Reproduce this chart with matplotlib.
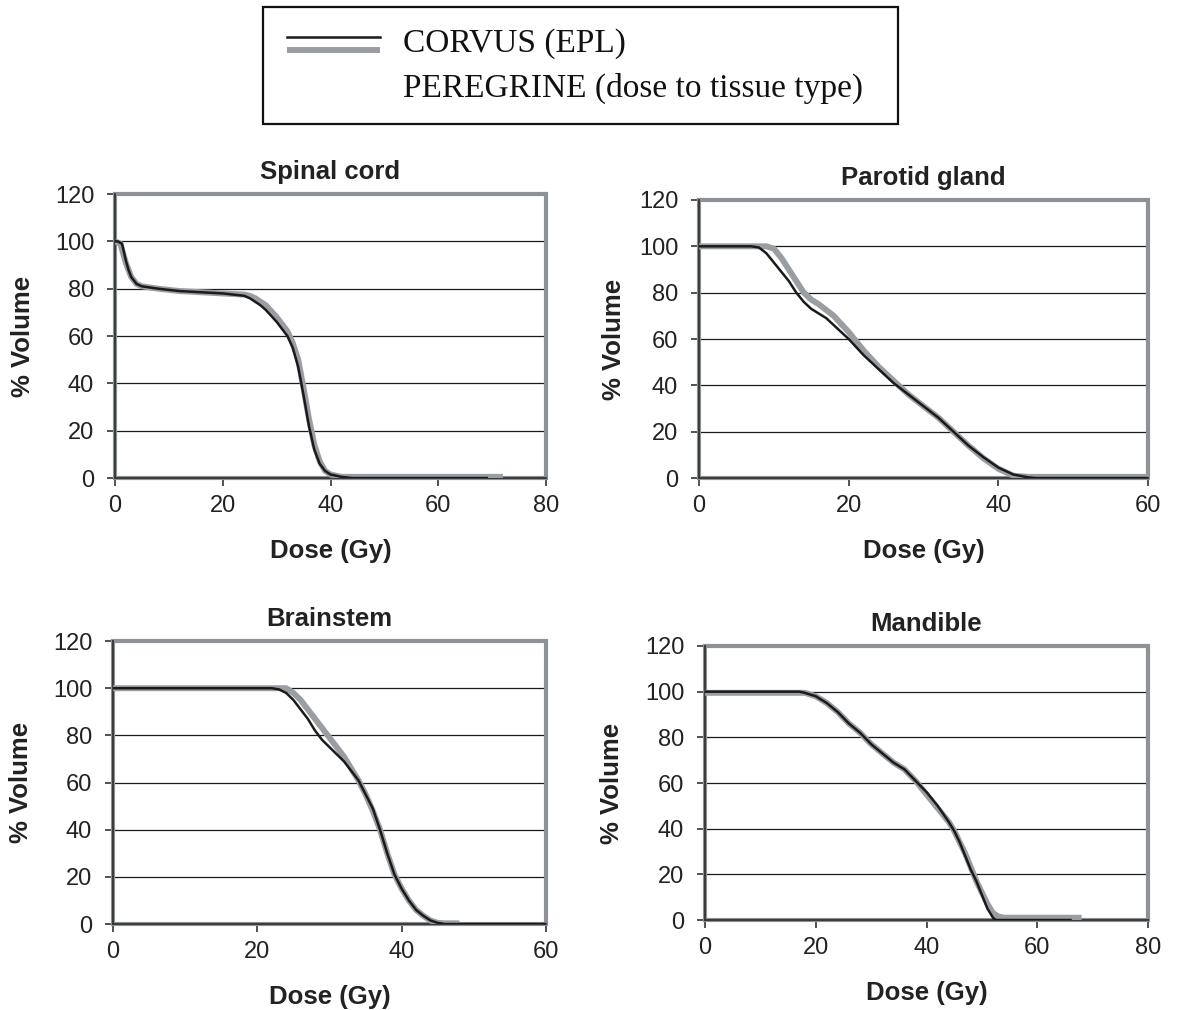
import matplotlib.pyplot as plt
from matplotlib.lines import Line2D
from matplotlib.patches import Rectangle

plt.rcParams['font.family'] = ['Liberation Sans', 'DejaVu Sans']

# dose-volume points (Gy, % volume)
spinal_dose_corvus = [0, 0.5, 1.3, 2, 2.5, 3, 4, 5, 8, 12, 16, 20, 22, 24, 25, 26, 27, 28, 29, 30, 31, 32, 33, 34, 35, 36, 37, 38, 39, 40, 42, 44, 50, 69]
spinal_vol_corvus = [100, 100, 99, 92, 88, 85, 82, 81, 80, 79, 78.5, 78, 77.5, 77, 76, 74.5, 73, 71, 68.5, 66, 63, 60, 55, 47, 35, 22, 12, 6, 3, 1.5, 0.5, 0, 0, 0]
spinal_dose_peregrine = [0, 1, 2, 2.5, 3, 4, 5, 8, 12, 16, 20, 24, 25, 26, 27, 28, 29, 30, 31, 32, 33, 34, 35, 36, 37, 38, 39, 40, 42, 44, 72]
spinal_vol_peregrine = [100, 99, 91, 88, 85, 82, 81, 80, 79, 78.5, 78, 77.5, 77, 76, 74.5, 73, 70.5, 68, 65, 62, 57, 50, 38, 25, 14, 7, 3, 1.5, 0.5, 0.5, 0.5]

parotid_dose_corvus = [0, 7, 8, 9, 10, 11, 12, 13, 14, 15, 16, 17, 18, 19, 20, 22, 24, 26, 28, 30, 32, 34, 36, 38, 40, 42, 44, 45, 60]
parotid_vol_corvus = [100, 100, 99.5, 97, 93, 89, 85, 80, 76, 73, 71, 69, 66, 63, 60, 53, 47, 41, 36, 31, 26, 20, 14, 9, 4.5, 1.5, 0.3, 0, 0]
parotid_dose_peregrine = [0, 8, 9, 10, 11, 12, 13, 14, 15, 16, 18, 20, 22, 24, 26, 28, 30, 32, 34, 36, 38, 40, 42, 44, 45, 60]
parotid_vol_peregrine = [100, 100, 100, 99, 95, 90, 85, 80, 77, 75, 70, 63, 55, 48, 42, 36, 31, 26, 20, 14, 8.5, 4, 1, 0.5, 0.5, 0.5]

brain_dose_corvus = [0, 22, 23, 24, 25, 26, 27, 28, 29, 30, 31, 32, 33, 34, 35, 36, 37, 38, 39, 40, 41, 42, 43, 44, 45, 46, 60]
brain_vol_corvus = [100, 100, 99.5, 98, 95, 91, 87, 82, 78, 75, 72, 69, 65, 61, 55, 49, 40, 30, 21, 15, 10, 6, 3.5, 1.5, 0.5, 0, 0]
brain_dose_peregrine = [0, 23, 24, 25, 26, 27, 28, 29, 30, 31, 32, 33, 34, 35, 36, 37, 38, 39, 40, 41, 42, 43, 44, 45, 46, 48]
brain_vol_peregrine = [100, 100, 100, 98, 95, 91, 87, 83, 79, 75, 71, 66, 61, 55, 48, 40, 30, 21, 15, 10, 6, 3.5, 1.5, 0.5, 0.3, 0.3]

mand_dose_corvus = [0, 17, 18, 20, 22, 24, 26, 28, 30, 32, 34, 36, 38, 40, 42, 44, 45, 46, 47, 48, 49, 50, 51, 52, 52.5, 66]
mand_vol_corvus = [100, 100, 99.5, 98, 95, 91, 86, 82, 77, 73, 69, 66, 61, 56, 50, 43, 39, 34, 28, 22, 17, 11, 5, 1, 0, 0]
mand_dose_peregrine = [0, 12, 17, 18, 20, 22, 24, 26, 28, 30, 32, 34, 36, 38, 40, 42, 44, 45, 46, 47, 48, 49, 50, 51, 52, 53, 54, 68]
mand_vol_peregrine = [99.5, 99.5, 99.5, 99.5, 98, 95, 91, 86, 82, 77, 73, 69, 66, 61, 55, 49, 43, 39, 34, 29, 23, 17, 12, 7, 3, 1.5, 1, 1]

titles = ['Spinal cord', 'Parotid gland', 'Brainstem', 'Mandible']
xmax = [80, 60, 60, 80]
legend_labels = ['CORVUS (EPL)', 'PEREGRINE (dose to tissue type)']

black = '#1a1a1a'
grey = '#9a9ea3'
frame_grey = '#8e9297'
txt = '#222222'

fig = plt.figure(figsize=(11.77, 10.10), dpi=100)

# axes rectangles in figure fractions
boxes = [
    [0.0977, 0.5267, 0.3662, 0.2812],
    [0.5939, 0.5267, 0.3815, 0.2753],
    [0.0960, 0.0851, 0.3679, 0.2802],
    [0.5990, 0.0891, 0.3764, 0.2713],
]
ypads = [14, 9, 14, 15]
series = [
    (spinal_dose_corvus, spinal_vol_corvus, spinal_dose_peregrine, spinal_vol_peregrine),
    (parotid_dose_corvus, parotid_vol_corvus, parotid_dose_peregrine, parotid_vol_peregrine),
    (brain_dose_corvus, brain_vol_corvus, brain_dose_peregrine, brain_vol_peregrine),
    (mand_dose_corvus, mand_vol_corvus, mand_dose_peregrine, mand_vol_peregrine),
]

for box, (xc, yc, xp, yp), title, xm, yl in zip(boxes, series, titles, xmax, ypads):
    ax = fig.add_axes(box)
    ax.set_xlim(0, xm)
    ax.set_ylim(0, 120)
    ax.set_xticks(range(0, xm + 1, 20))
    ax.set_yticks(range(0, 121, 20))
    for v in range(20, 101, 20):
        ax.axhline(v, color=black, lw=0.9, zorder=1)
    ax.plot(xp, yp, color=grey, lw=4.3, solid_capstyle='butt', zorder=3)
    ax.plot(xc, yc, color=black, lw=1.8, zorder=4)
    # grey plot-area border, dark axis lines on left/bottom
    ax.add_patch(Rectangle((0, 0), 1, 1, transform=ax.transAxes, fill=False,
                           ec=frame_grey, lw=3, zorder=2.4, clip_on=False))
    for s in ['top', 'right']:
        ax.spines[s].set_visible(False)
    for s in ['left', 'bottom']:
        ax.spines[s].set_color('#333333')
        ax.spines[s].set_linewidth(1.3)
    ax.tick_params(direction='out', length=6, width=1.2, color='#333333',
                   labelsize=17, labelcolor=txt)
    ax.tick_params(axis='y', pad=9)
    ax.tick_params(axis='x', pad=6)
    ax.set_title(title, fontsize=18.5, fontweight='bold', color=txt, pad=10.5)
    ax.set_xlabel('Dose (Gy)', fontsize=18.5, fontweight='bold', color=txt, labelpad=16)
    ax.set_ylabel('% Volume', fontsize=18.5, fontweight='bold', color=txt, labelpad=yl)

# legend box at the top
W, H = 1177, 1010
fig.patches.append(Rectangle((263 / W, 1 - 124 / H), (898 - 263) / W, (124 - 7) / H,
                             transform=fig.transFigure, fill=False, ec='#111111', lw=1.6))
fig.lines.append(Line2D([287 / W, 380 / W], [1 - 37 / H, 1 - 37 / H], transform=fig.transFigure,
                        color=black, lw=1.8))
fig.lines.append(Line2D([287 / W, 380 / W], [1 - 50 / H, 1 - 50 / H], transform=fig.transFigure,
                        color=grey, lw=4.3, solid_capstyle='butt'))
fig.text(403 / W, 1 - 44 / H, legend_labels[0], fontsize=24, family=['Liberation Serif'],
         va='center', ha='left', color='#111111')
fig.text(403 / W, 1 - 88 / H, legend_labels[1], fontsize=24, family=['Liberation Serif'],
         va='center', ha='left', color='#111111')

fig.savefig('out.png', dpi=100, facecolor='white')
